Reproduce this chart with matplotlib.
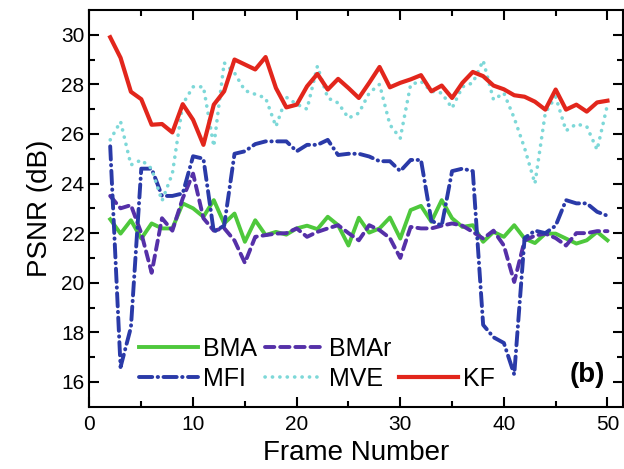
import numpy as np
import matplotlib
matplotlib.use("Agg")
import matplotlib.pyplot as plt
from matplotlib.lines import Line2D

plt.rcParams["font.family"] = ["Liberation Sans", "DejaVu Sans"]

# frame numbers 2..50
frames = list(range(2, 51))

bma = [22.56, 21.98, 22.52, 21.78, 22.39, 22.19, 22.19, 23.2, 23.0, 22.66,
       23.33, 22.39, 22.79, 21.65, 22.52, 21.92, 22.05, 21.94, 22.19, 22.3,
       22.16, 22.66, 22.32, 21.5, 22.62, 22.02, 22.19, 22.63, 21.78, 22.93,
       23.1, 22.46, 23.33, 22.6, 22.25, 22.32, 21.65, 22.05, 21.85, 22.32,
       21.78, 21.6, 21.98, 21.98, 21.78, 21.58, 21.71, 22.05, 21.71]

bmar = [23.5, 23.0, 23.13, 22.0, 20.4, 22.6, 22.1, 23.4, 24.4, 22.6,
        22.1, 22.2, 21.7, 20.8, 21.85, 21.92, 21.98, 22.0, 22.19, 21.85,
        22.05, 22.19, 22.32, 22.0, 21.71, 22.32, 22.12, 21.8, 21.0, 22.25,
        22.19, 22.19, 22.3, 22.39, 22.3, 22.05, 21.78, 22.1, 21.5, 20.03,
        21.7, 21.9, 21.98, 21.8, 21.5, 22.0, 22.0, 22.08, 22.08]

mfi = [25.5, 16.6, 18.2, 24.6, 24.6, 23.5, 23.5, 23.6, 25.1, 25.0,
       22.05, 22.3, 25.2, 25.3, 25.59, 25.7, 25.7, 25.7, 25.3, 25.56,
       25.56, 25.76, 25.15, 25.2, 25.2, 25.09, 24.9, 24.9, 24.5, 24.95,
       24.95, 22.5, 22.3, 24.5, 24.6, 24.5, 18.3, 17.8, 17.57, 16.3,
       21.8, 22.1, 22.0, 22.3, 23.33, 23.2, 23.2, 22.86, 22.7]

mve = [25.76, 26.5, 24.75, 24.95, 24.6, 23.3, 24.4, 27.2, 27.9, 27.9,
       25.5, 28.87, 28.46, 27.75, 27.6, 27.45, 26.3, 27.48, 27.2, 27.0,
       28.73, 27.45, 27.25, 26.64, 26.84, 27.65, 28.0, 26.37, 25.83, 27.99,
       28.12, 27.72, 27.65, 27.04, 27.9, 28.06, 28.96, 27.38, 27.65, 26.64,
       25.43, 24.0, 26.85, 27.5, 26.13, 26.4, 26.3, 25.36, 27.18]

kf = [29.9, 29.07, 27.7, 27.4, 26.37, 26.4, 26.06, 27.2, 26.57, 25.56,
      27.18, 27.72, 29.0, 28.8, 28.6, 29.1, 27.85, 27.07, 27.18, 27.92,
      28.42, 27.79, 28.22, 27.85, 27.45, 28.06, 28.7, 27.88, 28.06, 28.2,
      28.37, 27.72, 27.95, 27.45, 28.06, 28.5, 28.33, 27.95, 27.8, 27.56,
      27.5, 27.3, 26.98, 27.79, 26.98, 27.18, 26.9, 27.27, 27.34]

fig = plt.figure(figsize=(6.24, 4.69), dpi=100)
ax = fig.add_axes([0.1434, 0.1328, 0.855, 0.846])

l_bma, = ax.plot(frames, bma, color="#4ec83c", lw=2.8, label="BMA")
l_bmar, = ax.plot(frames, bmar, color="#5530a8", lw=2.8, ls=(0, (2.4, 1.5)),
                  dash_capstyle="round", label="BMAr")
l_mfi, = ax.plot(frames, mfi, color="#2a3aa8", lw=2.8, ls=(0, (3.4, 1.4, 0.1, 1.4)),
                 dash_capstyle="round", label="MFI")
l_mve, = ax.plot(frames, mve, color="#7dd8d8", lw=2.6, ls=(0, (0.05, 2.0)),
                 dash_capstyle="round", label="MVE")
l_kf, = ax.plot(frames, kf, color="#e2261c", lw=3.0, label="KF")

blank = Line2D([], [], color="none", label=" ")
ax.legend([l_bma, l_mfi, l_bmar, l_mve, blank, l_kf],
          ["BMA", "MFI", "BMAr", "MVE", "", "KF"],
          ncol=3, loc="lower left", bbox_to_anchor=(0.093, 0.04),
          frameon=False, fontsize=18, handlelength=2.36, borderpad=0,
          columnspacing=0.32, handletextpad=0.2, labelspacing=0.25,
          borderaxespad=0)

ax.text(0.966, 0.08, "(b)", transform=ax.transAxes, ha="right", va="center",
        fontsize=20, fontweight="bold")

ax.set_xlim(0, 51.5)
ax.set_ylim(15, 31)
ax.set_xticks(range(0, 51, 10))
ax.set_xticks(range(0, 51, 5), minor=True)
ax.set_yticks(range(16, 31, 2))
ax.set_yticks(range(16, 31, 1), minor=True)

ax.tick_params(which="both", direction="in", top=True, right=True, width=1.5)
ax.tick_params(which="major", length=7, labelsize=15)
ax.tick_params(which="minor", length=4)
ax.tick_params(axis="x", which="major", pad=6)
for s in ax.spines.values():
    s.set_linewidth(1.5)

ax.set_xlabel("Frame Number", fontsize=20, labelpad=4)
ax.set_ylabel("PSNR (dB)", fontsize=20, labelpad=6)

fig.savefig("out.png", dpi=100)
